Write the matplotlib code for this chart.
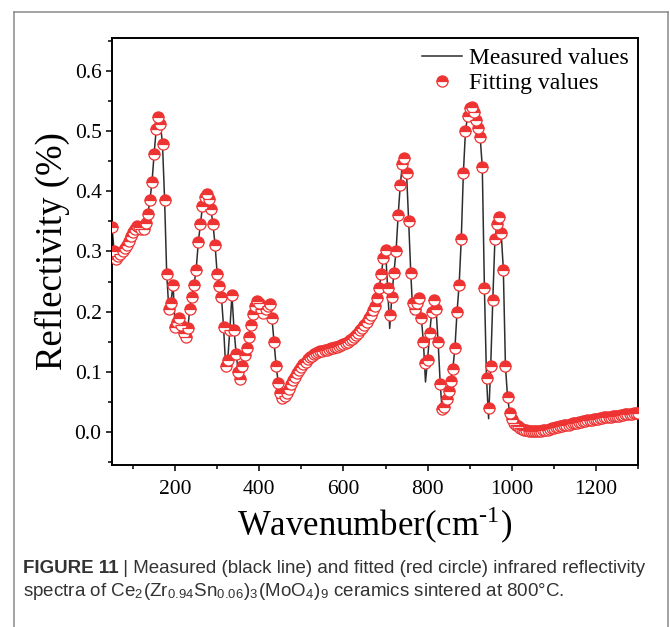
import matplotlib
matplotlib.use("Agg")
import matplotlib.pyplot as plt
from matplotlib.lines import Line2D
from matplotlib.ticker import MultipleLocator, FormatStrFormatter

plt.rcParams['font.family'] = ['Liberation Serif', 'DejaVu Serif']
plt.rcParams['mathtext.fontset'] = 'stix'

# sampling grid of the spectrum (cm-1), one fitted point every 5 cm-1
wavenumber = list(range(50, 1305, 5))

# fitted reflectivity
fitted = [
    0.340, 0.300, 0.288, 0.292, 0.296, 0.300, 0.305, 0.311, 0.318, 0.325,   # 50-95
    0.332, 0.338, 0.342, 0.340, 0.338, 0.338, 0.348, 0.362, 0.385, 0.415,   # 100-145
    0.462, 0.503, 0.523, 0.512, 0.478, 0.385, 0.262, 0.205, 0.215, 0.245,   # 150-195
    0.175, 0.183, 0.190, 0.178, 0.165, 0.158, 0.172, 0.205, 0.225, 0.245,   # 200-245
    0.270, 0.315, 0.345, 0.375, 0.390, 0.396, 0.388, 0.370, 0.345, 0.310,   # 250-295
    0.262, 0.243, 0.225, 0.175, 0.110, 0.120, 0.170, 0.228, 0.170, 0.130,   # 300-345
    0.100, 0.088, 0.110, 0.128, 0.140, 0.158, 0.178, 0.196, 0.210, 0.218,   # 350-395
    0.215, 0.205, 0.198, 0.205, 0.210, 0.212, 0.190, 0.150, 0.110, 0.082,   # 400-445
    0.065, 0.057, 0.059, 0.065, 0.072, 0.079, 0.086, 0.092, 0.098, 0.103,   # 450-495
    0.108, 0.113, 0.117, 0.121, 0.124, 0.127, 0.129, 0.131, 0.133, 0.134,   # 500-545
    0.135, 0.136, 0.137, 0.138, 0.139, 0.140, 0.141, 0.142, 0.143, 0.144,   # 550-595
    0.146, 0.148, 0.150, 0.152, 0.155, 0.158, 0.161, 0.165, 0.169, 0.173,   # 600-645
    0.178, 0.183, 0.189, 0.195, 0.202, 0.210, 0.222, 0.240, 0.262, 0.290,   # 650-695
    0.302, 0.240, 0.195, 0.225, 0.265, 0.300, 0.360, 0.410, 0.445, 0.455,   # 700-745
    0.430, 0.350, 0.265, 0.215, 0.205, 0.215, 0.222, 0.190, 0.150, 0.115,   # 750-795
    0.120, 0.165, 0.200, 0.220, 0.205, 0.150, 0.080, 0.038, 0.042, 0.055,   # 800-845
    0.068, 0.085, 0.105, 0.140, 0.200, 0.245, 0.320, 0.430, 0.500, 0.525,   # 850-895
    0.538, 0.540, 0.532, 0.518, 0.505, 0.490, 0.440, 0.240, 0.090, 0.040,   # 900-945
    0.110, 0.220, 0.320, 0.345, 0.357, 0.330, 0.270, 0.110, 0.058, 0.032,   # 950-995
    0.022, 0.015, 0.011, 0.009, 0.007, 0.005, 0.004, 0.003, 0.002, 0.002,   # 1000-1045
    0.001, 0.001, 0.001, 0.002, 0.002, 0.003, 0.004, 0.004, 0.005, 0.006,   # 1050-1095
    0.007, 0.008, 0.008, 0.009, 0.010, 0.011, 0.011, 0.012, 0.013, 0.014,   # 1100-1145
    0.015, 0.015, 0.016, 0.017, 0.018, 0.018, 0.019, 0.020, 0.020, 0.021,   # 1150-1195
    0.021, 0.022, 0.023, 0.023, 0.024, 0.024, 0.025, 0.025, 0.026, 0.026,   # 1200-1245
    0.027, 0.027, 0.028, 0.028, 0.029, 0.029, 0.030, 0.030, 0.031, 0.031,   # 1250-1295
    0.032,                                                                  # 1300
]

# where the measured line leaves the circles (sharp dips)
dip_wn = [710, 765, 795, 835, 945]
dip_measured = [0.172, 0.195, 0.083, 0.032, 0.022]

measured = list(fitted)
for w, v in zip(dip_wn, dip_measured):
    measured[wavenumber.index(w)] = v

red = '#ee3333'

fig = plt.figure(figsize=(6.70, 6.27), dpi=100)
ax = fig.add_axes([0.1672, 0.2584, 0.7850, 0.6810])

ax.plot(wavenumber, measured, color='#2e2e2e', lw=1.1, label='Measured values', zorder=2)
ax.plot(wavenumber, fitted, ls='none', marker='o', ms=8, mew=0.9,
        mec=red, mfc=red, mfcalt='white', fillstyle='top',
        label='Fitting values', zorder=3)

ax.set_xlim(50, 1300)
ax.set_ylim(-0.055, 0.655)
ax.xaxis.set_major_locator(MultipleLocator(200))
ax.xaxis.set_minor_locator(MultipleLocator(100))
ax.yaxis.set_major_locator(MultipleLocator(0.1))
ax.yaxis.set_minor_locator(MultipleLocator(0.05))
ax.yaxis.set_major_formatter(FormatStrFormatter('%.1f'))

for s in ax.spines.values():
    s.set_linewidth(1.4)
ax.tick_params(which='both', direction='out', width=1.1, top=False, right=False)
ax.tick_params(which='major', length=4.5, labelsize=15.5)
ax.tick_params(axis='x', which='major', pad=6)
ax.tick_params(axis='y', which='major', pad=3)
ax.tick_params(which='minor', length=3)

ax.set_xlabel('Wavenumber(cm$^{\\mathregular{\u2010}\\mathregular{1}}$)', fontsize=25, labelpad=4)
ax.set_ylabel('Reflectivity (%)', fontsize=26.5, labelpad=3)

ax.legend(loc='upper right', frameon=False, fontsize=17, handlelength=1.7,
          handletextpad=0.3, labelspacing=0.15, borderaxespad=0.2, borderpad=0.2)

# page frame around figure + caption
frame = dict(color='#8a8a8a', lw=1.1, transform=fig.transFigure)
fig.add_artist(Line2D([0.021, 0.021], [-0.01, 0.981], **frame))
fig.add_artist(Line2D([0.021, 0.997], [0.981, 0.981], **frame))
fig.add_artist(Line2D([0.997, 0.997], [-0.01, 0.981], **frame))

cap_font = ['Liberation Sans Narrow', 'Liberation Sans', 'DejaVu Sans']
cap_color = '#333333'
t1 = fig.text(0.034, 0.093, 'FIGURE 11', fontsize=13.5, family=cap_font,
              weight='bold', color=cap_color, va='center')
fig.canvas.draw()
bb = t1.get_window_extent()
fig.text(bb.x1 / fig.bbox.width, 0.093,
         ' | Measured (black line) and fitted (red circle) infrared reflectivity',
         fontsize=13.5, family=cap_font, color=cap_color, va='center')
fig.text(0.034, 0.056,
         'spectra of Ce$_{\\mathregular{2}}$(Zr$_{\\mathregular{0.94}}$Sn$_{\\mathregular{0.06}}$)'
         '$_{\\mathregular{3}}$(MoO$_{\\mathregular{4}}$)$_{\\mathregular{9}}$ ceramics sintered at 800°C.',
         fontsize=13.5, family=cap_font, color=cap_color, va='center')

fig.savefig('out.png', dpi=100)
